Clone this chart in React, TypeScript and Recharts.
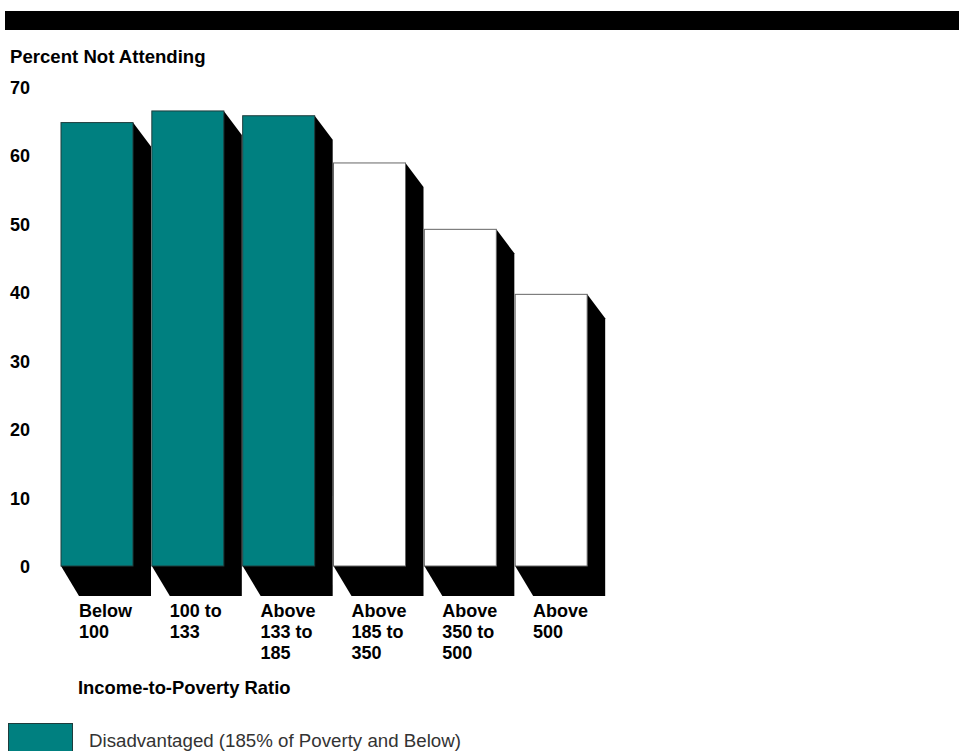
import { BarChart, Bar, XAxis, YAxis, Cell } from "recharts";

const categories = [
  "Below\n100",
  "100 to\n133",
  "Above\n133 to\n185",
  "Above\n185 to\n350",
  "Above\n350 to\n500",
  "Above\n500",
];
const percentNotAttending = [64.8, 66.5, 65.8, 58.9, 49.2, 39.7];
const disadvantaged = [true, true, true, false, false, false];
const yTicks = [0, 10, 20, 30, 40, 50, 60, 70];

const data = categories.map((name, i) => ({
  name,
  value: percentNotAttending[i],
  disadvantaged: disadvantaged[i],
}));

const TEAL = "#008080";
const FONT = "'Liberation Sans', Arial, Helvetica, sans-serif";

const ShadowBar = (props: any) => {
  const { x, y, width, height, fill, stroke } = props;
  if (height == null || height <= 0) return null;
  const dx = 18;
  const dyTop = 24;
  const dyBottom = 30;
  const pts = [
    [x + width, y],
    [x + width + dx, y + dyTop],
    [x + width + dx, y + height + dyBottom],
    [x + dx, y + height + dyBottom],
    [x, y + height],
  ]
    .map((p) => p.join(","))
    .join(" ");
  return (
    <g>
      <polygon points={pts} fill="#000" />
      <rect x={x} y={y} width={width} height={height} fill={fill} stroke={stroke} strokeWidth={1} />
    </g>
  );
};

const XTick = (props: any) => {
  const { x, y, payload } = props;
  const lines = String(payload.value).split("\n");
  return (
    <text x={x - 18.5} y={y + 51} fontFamily={FONT} fontSize={18} fontWeight="bold" fill="#000">
      {lines.map((l, i) => (
        <tspan key={i} x={x - 18.5} dy={i === 0 ? 0 : 21}>
          {l}
        </tspan>
      ))}
    </text>
  );
};

const YTick = (props: any) => {
  const { y, payload } = props;
  return (
    <text x={30} y={y + 7} textAnchor="end" fontFamily={FONT} fontSize={18} fontWeight="bold" fill="#000">
      {payload.value}
    </text>
  );
};

export default function App() {
  return (
    <div
      style={{
        position: "absolute",
        left: 0,
        top: 0,
        width: 959,
        height: 751,
        overflow: "hidden",
        background: "#fff",
        fontFamily: FONT,
      }}
    >
      <div style={{ position: "absolute", left: 5, top: 11, width: 954, height: 19, background: "#000" }} />
      <div
        style={{
          position: "absolute",
          left: 10,
          top: 47,
          fontSize: 18.6,
          fontWeight: "bold",
          lineHeight: "20px",
          color: "#000",
          whiteSpace: "nowrap",
        }}
      >
        Percent Not Attending
      </div>

      <div style={{ position: "absolute", left: 0, top: 0 }}>
        <BarChart
          width={959}
          height={751}
          data={data}
          margin={{ top: 87, right: 362, bottom: 85, left: 0 }}
        >
          <YAxis
            type="number"
            domain={[0, 70]}
            ticks={yTicks}
            width={52}
            axisLine={false}
            tickLine={false}
            tickSize={0}
            tickMargin={0}
            tick={<YTick />}
            interval={0}
          />
          <XAxis
            dataKey="name"
            height={100}
            axisLine={false}
            tickLine={false}
            tickSize={0}
            tickMargin={0}
            tick={<XTick />}
            interval={0}
          />
          <Bar dataKey="value" barSize={72} shape={<ShadowBar />} isAnimationActive={false}>
            {data.map((d, i) => (
              <Cell
                key={i}
                fill={d.disadvantaged ? TEAL : "#fff"}
                stroke={d.disadvantaged ? "#1e3c3c" : "#666"}
              />
            ))}
          </Bar>
        </BarChart>
      </div>

      <div
        style={{
          position: "absolute",
          left: 78,
          top: 678,
          fontSize: 18.4,
          fontWeight: "bold",
          lineHeight: "20px",
          whiteSpace: "nowrap",
          color: "#000",
        }}
      >
        Income-to-Poverty Ratio
      </div>

      <div
        style={{
          position: "absolute",
          left: 8,
          top: 723,
          width: 63,
          height: 32,
          background: TEAL,
          border: "1px solid #1e3c3c",
        }}
      />
      <div
        style={{
          position: "absolute",
          left: 89,
          top: 731,
          fontSize: 18.7,
          lineHeight: "20px",
          whiteSpace: "nowrap",
          color: "#333",
        }}
      >
        Disadvantaged (185% of Poverty and Below)
      </div>
    </div>
  );
}
